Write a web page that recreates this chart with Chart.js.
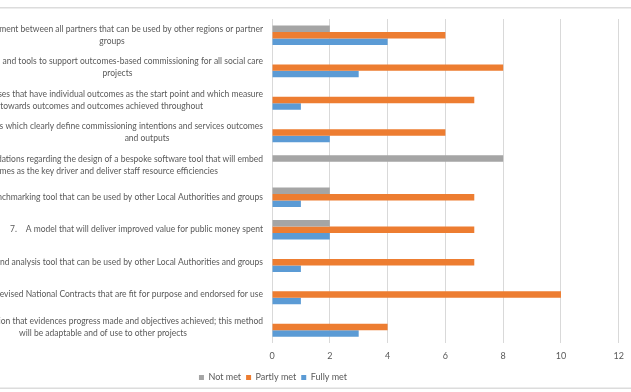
<!DOCTYPE html>
<html>
<head>
<meta charset="utf-8">
<script src="https://cdn.jsdelivr.net/npm/chart.js@4"></script>
<style>
  html, body { margin: 0; padding: 0; background: #fff; overflow: hidden; width: 631px; height: 392px; }
  #wrap { position: absolute; left: -84px; top: 0; }
</style>
</head>
<body>
<div id="wrap"><canvas id="myChart" width="715" height="392"></canvas></div>
<script>
  // category labels (the left part is cut off in the picture)
  const labelLines = [
    ['ment between all partners that can be used by other regions or partner', 'groups'],
    ['n and tools to support outcomes-based commissioning for all social care', 'projects'],
    ['ses that have individual outcomes as the start point and which measure', 's towards outcomes and outcomes achieved throughout'],
    ['es which clearly define commissioning intentions and services outcomes', 'and outputs'],
    ['dations regarding the design of a bespoke software tool that will embed', 'omes as the key driver and deliver staff resource efficiencies'],
    ['enchmarking tool that can be used by other Local Authorities and groups'],
    ['7.    A model that will deliver improved value for public money spent'],
    ['and analysis tool that can be used by other Local Authorities and groups'],
    ['revised National Contracts that are fit for purpose and endorsed for use'],
    ['tion that evidences progress made and objectives achieved; this method', 'will be adaptable and of use to other projects']
  ];
  const labels = labelLines.map(l => l.join(' '));

  const seriesNames = ['Not met', 'Partly met', 'Fully met'];
  const notMet    = [2, 0, 0, 0, 8, 2, 2, 0, 0, 0];
  const partlyMet = [6, 8, 7, 6, 0, 7, 7, 7, 10, 4];
  const fullyMet  = [4, 3, 1, 2, 0, 1, 2, 1, 1, 3];
  const xTicks = [0, 2, 4, 6, 8, 10, 12];

  // where the second line of a label sits (canvas x, alignment)
  const secondLine = {
    0: [112 + 84, 'center'],
    1: [117.5 + 84, 'center'],
    2: [203 + 84, 'right'],
    3: [147 + 84, 'center'],
    4: [218 + 84, 'right'],
    9: [103 + 84, 'center']
  };
  const labelRight = 263 + 84;
  const textColor = '#595959';
  const fontFamily = 'Lato, "Open Sans", sans-serif';

  // size the font so a known phrase is about as wide as in the picture
  const probe = document.createElement('canvas').getContext('2d');
  probe.font = '10px ' + fontFamily;
  const fontSize = Math.round(10 * 186 / probe.measureText('will deliver improved value for public money spent').width * 10) / 10;
  const smallSize = Math.round(fontSize * 1.06 * 10) / 10;

  const frameLines = {
    id: 'frameLines',
    beforeDraw(chart) {
      const ctx = chart.ctx;
      ctx.save();
      ctx.fillStyle = '#dcdcdc';
      ctx.fillRect(0, 7, chart.width, 1.5);
      ctx.fillRect(0, 387.5, chart.width, 1.5);
      ctx.restore();
    }
  };

  const categoryText = {
    id: 'categoryText',
    afterDraw(chart) {
      const ctx = chart.ctx;
      const y = chart.scales.y;
      ctx.save();
      ctx.font = fontSize + 'px ' + fontFamily;
      ctx.fillStyle = textColor;
      ctx.textBaseline = 'middle';
      labelLines.forEach((lines, i) => {
        const cy = y.getPixelForValue(i);
        const top = cy - (lines.length - 1) * 12 / 2;
        lines.forEach((txt, k) => {
          let x = labelRight, align = 'right';
          if (k > 0 && secondLine[i]) {
            x = secondLine[i][0];
            align = secondLine[i][1];
          }
          ctx.textAlign = align;
          ctx.fillText(txt, x, top + k * 12);
        });
      });
      ctx.restore();
    }
  };

  const data = {
    labels: labels,
    datasets: [{
      label: seriesNames[0],
      backgroundColor: '#a5a5a5',
      data: notMet
    }, {
      label: seriesNames[1],
      backgroundColor: '#ed7d31',
      data: partlyMet
    }, {
      label: seriesNames[2],
      backgroundColor: '#5b9bd5',
      data: fullyMet
    }]
  };

  const config = {
    type: 'bar',
    data: data,
    options: {
      indexAxis: 'y',
      responsive: false,
      animation: false,
      categoryPercentage: 0.6,
      barPercentage: 1,
      layout: { padding: { top: 19, right: 12, left: 11, bottom: 0 } },
      scales: {
        x: {
          min: 0,
          max: 12,
          afterBuildTicks(scale) {
            scale.ticks = xTicks.map(v => ({ value: v }));
          },
          grid: { color: '#d9d9d9', drawTicks: false },
          border: { display: false },
          ticks: {
            padding: 7,
            color: textColor,
            font: { family: fontFamily, size: smallSize }
          }
        },
        y: {
          ticks: { display: false },
          grid: { display: false },
          border: { display: false },
          afterFit(scale) { scale.width = 345; }
        }
      },
      plugins: {
        legend: {
          position: 'bottom',
          labels: {
            boxWidth: 5,
            boxHeight: 5,
            padding: 5,
            color: textColor,
            font: { family: fontFamily, size: smallSize }
          }
        },
        tooltip: { enabled: false }
      }
    },
    plugins: [frameLines, categoryText]
  };

  const myChart = new Chart(document.getElementById('myChart'), config);
</script>
</body>
</html>
